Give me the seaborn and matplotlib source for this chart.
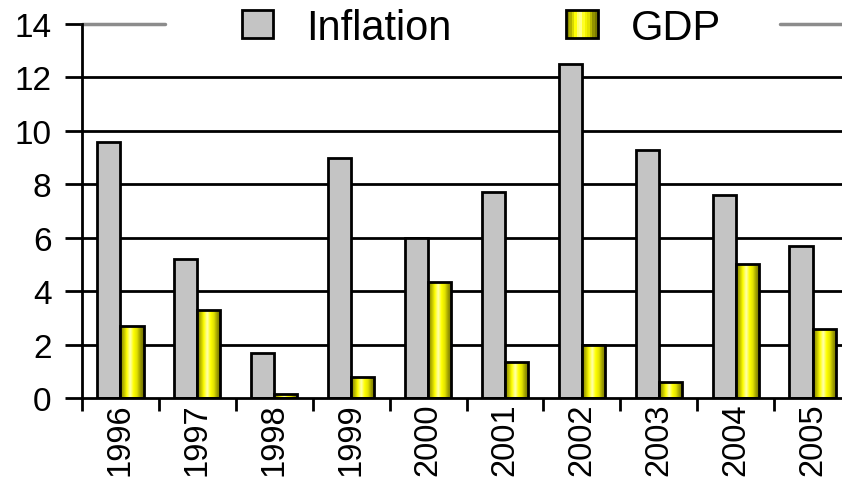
import numpy as np
import pandas as pd
import matplotlib
matplotlib.use("Agg")
import matplotlib.pyplot as plt
from matplotlib.colors import LinearSegmentedColormap
from matplotlib.patches import Rectangle
from matplotlib.legend_handler import HandlerBase
import seaborn as sns

years = ["1996", "1997", "1998", "1999", "2000", "2001", "2002", "2003", "2004", "2005"]
inflation = [9.6, 5.2, 1.7, 9.0, 6.0, 7.7, 12.5, 9.3, 7.6, 5.7]
gdp = [2.7, 3.3, 0.15, 0.8, 4.35, 1.35, 2.0, 0.6, 5.0, 2.6]
series = ["Inflation", "GDP"]
y_ticks = [0, 2, 4, 6, 8, 10, 12, 14]

df = pd.DataFrame({
    "year": years * 2,
    "value": inflation + gdp,
    "series": [series[0]] * len(years) + [series[1]] * len(years),
})

sns.set_style("white")
plt.rcParams["font.family"] = ["Liberation Sans", "DejaVu Sans"]
plt.rcParams["text.color"] = "black"
plt.rcParams["xtick.color"] = "black"
plt.rcParams["ytick.color"] = "black"

W, H, DPI = 842, 481, 100
fig = plt.figure(figsize=(W / DPI, H / DPI), dpi=DPI)
# plot area runs slightly past the right edge of the canvas
ax = fig.add_axes([82 / W, 82 / H, 769 / W, 374 / H])

silver = "#C4C4C4"
yellow_stops = ["#7a7a00", "#b8b800", "#ffff00", "#ffffb0", "#ffff00",
                "#e0e000", "#9a9a00", "#6e6e00"]
cyl = LinearSegmentedColormap.from_list("cyl", yellow_stops)

sns.barplot(data=df, x="year", y="value", hue="series", order=years,
            hue_order=series, palette=[silver, "#ffff00"], width=0.6,
            edgecolor="black", linewidth=2, saturation=1, ax=ax,
            legend=False, zorder=3)

ax.set_ylim(0, 14)
xlim = ax.get_xlim()
ylim = ax.get_ylim()

# shaded cylinder look for the GDP bars
grad = np.linspace(0, 1, 64).reshape(1, -1)
for bar in ax.containers[1]:
    x0, y0 = bar.get_x(), bar.get_y()
    w, h = bar.get_width(), bar.get_height()
    im = ax.imshow(grad, cmap=cyl, aspect="auto",
                   extent=(x0, x0 + w, y0, y0 + h), zorder=3.5,
                   interpolation="bilinear")
    im.set_clip_path(bar)
    bar.set_facecolor("none")
    bar.set_zorder(4)
ax.set_xlim(xlim)
ax.set_ylim(ylim)

ax.set_yticks(y_ticks)
ax.set_yticklabels([str(v) for v in y_ticks])
ax.set_xlabel("")
ax.set_ylabel("")
ax.tick_params(axis="y", labelsize=24, length=12, width=2, pad=10,
               direction="out", left=True, colors="black")
ax.tick_params(axis="x", labelsize=23.5, length=9, width=2, pad=3,
               direction="out", bottom=True, labelrotation=90, colors="black")
ax.set_xticks(np.arange(len(years) + 1) - 0.5, minor=True)
ax.tick_params(axis="x", which="minor", length=9, width=2, bottom=True)
ax.tick_params(axis="x", which="major", length=0)

for v in y_ticks[1:-1]:
    ax.axhline(v, color="black", linewidth=2, zorder=1)
ax.axhline(14, xmin=0, xmax=(165 - 82) / 769, color="#8c8c8c", linewidth=2.5,
           zorder=1, clip_on=False)
ax.axhline(14, xmin=(780 - 82) / 769, xmax=1, color="#8c8c8c", linewidth=2.5,
           zorder=1, clip_on=False)

for side in ["top", "right"]:
    ax.spines[side].set_visible(False)
for side in ["left", "bottom"]:
    ax.spines[side].set_color("black")
    ax.spines[side].set_linewidth(2)
    ax.spines[side].set_zorder(5)


class CylinderHandler(HandlerBase):
    def create_artists(self, legend, orig_handle, xdescent, ydescent,
                       width, height, fontsize, trans):
        n = 12
        arts = []
        for i in range(n):
            c = cyl((i + 0.5) / n)
            r = Rectangle((-xdescent + i * width / n, -ydescent), width / n,
                          height, facecolor=c, edgecolor="none",
                          transform=trans)
            arts.append(r)
        arts.append(Rectangle((-xdescent, -ydescent), width, height,
                              facecolor="none", edgecolor="black",
                              linewidth=2, transform=trans))
        return arts


h_inf = Rectangle((0, 0), 1, 1, facecolor=silver, edgecolor="black",
                  linewidth=2)
h_gdp = Rectangle((0, 0), 1, 1, facecolor="#ffff00", edgecolor="black",
                  linewidth=2)
fig.legend([h_inf, h_gdp], series, loc="center",
           bbox_to_anchor=(481.5 / W, (H - 29) / H), ncol=2, frameon=False,
           fontsize=30, handlelength=0.75, handleheight=0.65,
           handletextpad=0.8, columnspacing=2.75, labelcolor="black",
           handler_map={h_gdp: CylinderHandler()})

fig.savefig("out.png", dpi=DPI)
